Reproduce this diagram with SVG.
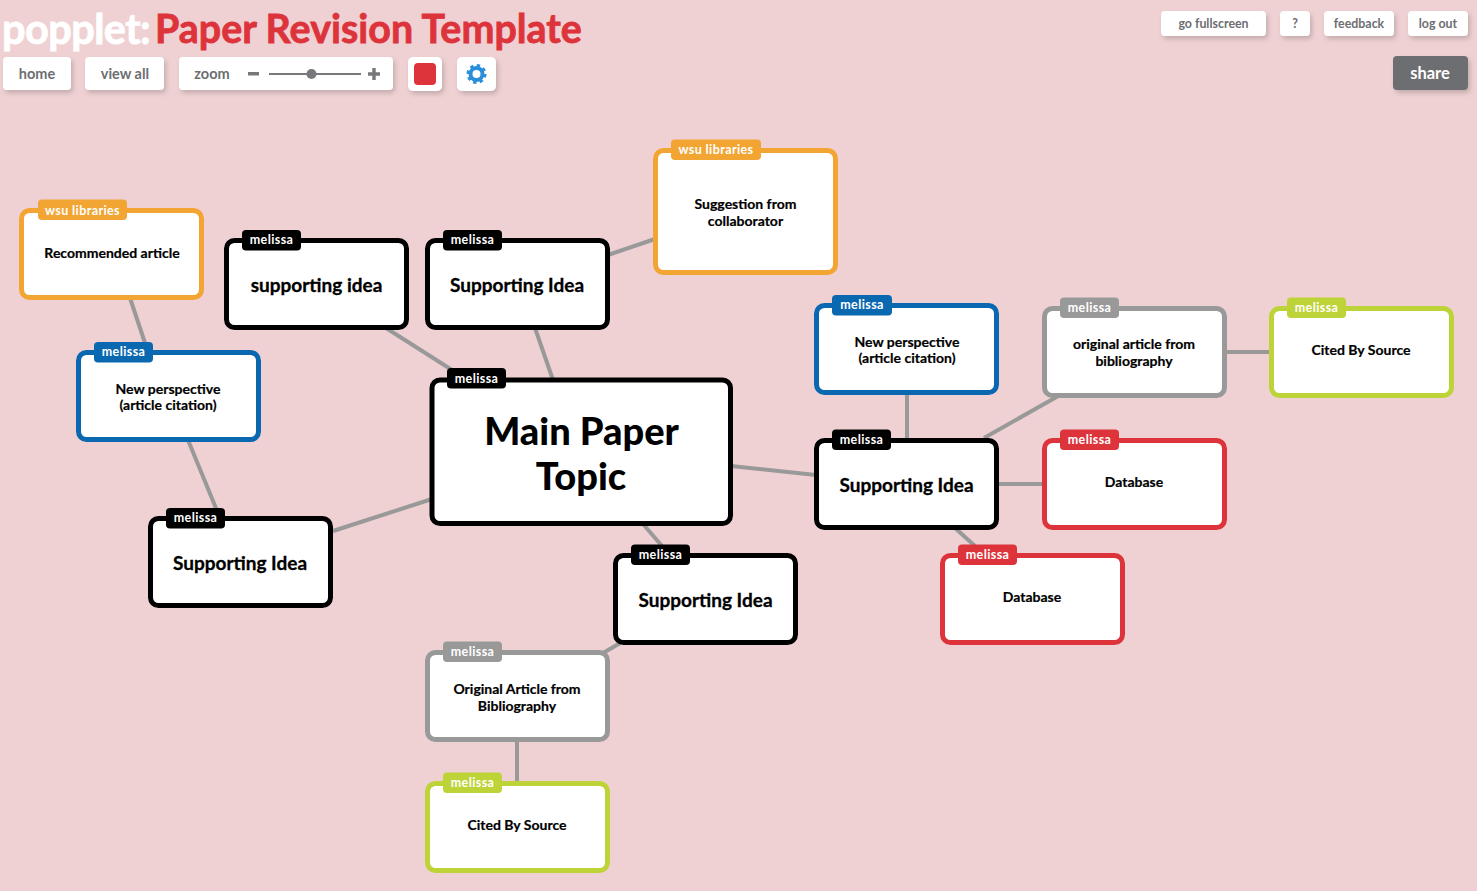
<svg xmlns="http://www.w3.org/2000/svg" width="1477" height="891" viewBox="0 0 1477 891">
<defs>
<filter id="sh" x="-30%" y="-30%" width="160%" height="170%"><feDropShadow dx="2" dy="3" stdDeviation="2.5" flood-color="#000" flood-opacity="0.18"/></filter>
</defs>
<style>
text{font-family:"Lato","Noto Sans","Liberation Sans",sans-serif;text-anchor:middle;font-weight:700}
.box{fill:#fff;stroke-width:5}
.black .box{stroke:#000}.black .tag{fill:#000}
.orange .box{stroke:#f2a533}.orange .tag{fill:#f2a533}
.blue .box{stroke:#0a68b0}.blue .tag{fill:#0a68b0}
.gray .box{stroke:#999}.gray .tag{fill:#999}
.lime .box{stroke:#bdd337}.lime .tag{fill:#bdd337}
.red .box{stroke:#dd343c}.red .tag{fill:#dd343c}
.tagt{fill:#fff;font-size:12.5px;letter-spacing:.4px}
.s{font-size:14px;fill:#000;stroke:#000;stroke-width:.2px}
.m{font-size:19px;fill:#000;stroke:#000;stroke-width:.3px}
.l{font-size:38px;fill:#000;font-weight:900}
.btn{fill:#fff;filter:url(#sh)}
.bt{fill:#6d6e71;font-size:12.4px}
.bt2{fill:#6d6e71;font-size:14.5px}
#connectors line{stroke:#999;stroke-width:4}
</style>
<rect width="1477" height="891" fill="#efd1d3"/>
<g id="header">
<text x="2" y="44" style="text-anchor:start;font-size:41.5px;fill:#fff;stroke:#fff;stroke-width:.8px;letter-spacing:-.6px">popplet:</text>
<text x="155" y="43" style="text-anchor:start;font-size:39.4px;fill:#dd343c;stroke:#dd343c;stroke-width:.8px">Paper Revision Template</text>
<rect class="btn" x="3" y="57" width="68" height="33" rx="4"/><text class="bt2" x="37" y="79">home</text>
<rect class="btn" x="85" y="57" width="79" height="33" rx="4"/><text class="bt2" x="125" y="79">view all</text>
<rect class="btn" x="179" y="57" width="214" height="33" rx="4"/><text class="bt2" x="212" y="79">zoom</text>
<rect x="248" y="72" width="11" height="3.500" fill="#77787b"/>
<rect x="269" y="73" width="92" height="2" fill="#77787b"/>
<circle cx="311.500" cy="74" r="5" fill="#77787b"/>
<path d="M368 72.300h4.300V68h3.400v4.300H380v3.400h-4.300V80h-3.400v-4.300H368z" fill="#77787b"/>
<rect class="btn" x="408" y="57" width="34" height="34" rx="5"/><rect x="414" y="63" width="22" height="22" rx="4" fill="#dd343c"/>
<rect class="btn" x="457" y="57" width="39" height="34" rx="5"/>
<circle cx="476.500" cy="74" r="6" fill="none" stroke="#2a8fd8" stroke-width="4"/>
<circle cx="476.500" cy="74" r="8.500" fill="none" stroke="#2a8fd8" stroke-width="3" stroke-dasharray="3.300 3.370"/>
<rect class="btn" x="1161" y="11" width="105" height="25" rx="4"/><text class="bt" x="1213.500" y="28">go fullscreen</text>
<rect class="btn" x="1280" y="11" width="30" height="25" rx="4"/><text class="bt" x="1295" y="28">?</text>
<rect class="btn" x="1324" y="11" width="70" height="25" rx="4"/><text class="bt" x="1359" y="28">feedback</text>
<rect class="btn" x="1408" y="11" width="60" height="25" rx="4"/><text class="bt" x="1438" y="28">log out</text>
<rect x="1393" y="56" width="75" height="34" rx="4" fill="#6d6e71" filter="url(#sh)"/><text x="1430" y="79" style="font-size:16.500px;fill:#fff">share</text>
</g>
<g id="connectors">
<line x1="130" y1="298" x2="148" y2="352"/>
<line x1="188" y1="440" x2="220" y2="518"/>
<line x1="333" y1="531" x2="432" y2="499"/>
<line x1="386" y1="328" x2="452" y2="370"/>
<line x1="535" y1="328" x2="553" y2="380"/>
<line x1="608" y1="255" x2="655" y2="239"/>
<line x1="731" y1="466" x2="816" y2="475"/>
<line x1="643" y1="524" x2="662" y2="546"/>
<line x1="907" y1="393" x2="907" y2="440"/>
<line x1="984" y1="438" x2="1060" y2="395"/>
<line x1="997" y1="484" x2="1044" y2="484"/>
<line x1="955" y1="528" x2="975" y2="546"/>
<line x1="1225" y1="352" x2="1271" y2="352"/>
<line x1="603" y1="653" x2="622" y2="642"/>
<line x1="517" y1="740" x2="517" y2="783"/>
</g>
<g id="n-recommended" class="orange"><rect class="box" x="21.500" y="210.500" width="180" height="87" rx="8"/><rect class="tag" x="38" y="199.500" width="89" height="20.500" rx="4"/><text class="tagt" x="82.500" y="214.500">wsu libraries</text><text class="s" x="112" y="257.500">Recommended article</text></g>
<g id="n-supporting-a" class="black"><rect class="box" x="226.500" y="240.500" width="180" height="87" rx="8"/><rect class="tag" x="242" y="230" width="59" height="20.500" rx="4"/><text class="tagt" x="271.500" y="244">melissa</text><text class="m" x="316.500" y="292">supporting idea</text></g>
<g id="n-supporting-b" class="black"><rect class="box" x="427.500" y="240.500" width="180" height="87" rx="8"/><rect class="tag" x="443" y="230" width="59" height="20.500" rx="4"/><text class="tagt" x="472.500" y="244">melissa</text><text class="m" x="517" y="292">Supporting Idea</text></g>
<g id="n-suggestion" class="orange"><rect class="box" x="655.500" y="150.500" width="180" height="122" rx="8"/><rect class="tag" x="671" y="139.500" width="90" height="20.500" rx="4"/><text class="tagt" x="716" y="154">wsu libraries</text><text class="s" x="745.500" y="209">Suggestion from</text><text class="s" x="745.500" y="226">collaborator</text></g>
<g id="n-perspective-left" class="blue"><rect class="box" x="78.500" y="352.500" width="180" height="87" rx="8"/><rect class="tag" x="94" y="342" width="59" height="20.500" rx="4"/><text class="tagt" x="123.500" y="356">melissa</text><text class="s" x="168" y="394">New perspective</text><text class="s" x="168" y="410">(article citation)</text></g>
<g id="n-main" class="black"><rect class="box" x="432" y="380" width="298.500" height="143.500" rx="8"/><rect class="tag" x="447" y="368" width="59" height="20.500" rx="4"/><text class="tagt" x="476.500" y="382.500">melissa</text><text class="l" x="581.500" y="444.500">Main Paper</text><text class="l" x="581" y="489.500">Topic</text></g>
<g id="n-supporting-left" class="black"><rect class="box" x="150.500" y="518.500" width="180" height="87" rx="8"/><rect class="tag" x="166" y="508" width="59" height="20.500" rx="4"/><text class="tagt" x="195.500" y="522">melissa</text><text class="m" x="240" y="570">Supporting Idea</text></g>
<g id="n-perspective-right" class="blue"><rect class="box" x="816.500" y="305.500" width="180" height="87" rx="8"/><rect class="tag" x="832" y="295" width="60" height="20.500" rx="4"/><text class="tagt" x="862" y="309">melissa</text><text class="s" x="907" y="347">New perspective</text><text class="s" x="907" y="363">(article citation)</text></g>
<g id="n-original" class="gray"><rect class="box" x="1044.500" y="308.500" width="180" height="87" rx="8"/><rect class="tag" x="1060" y="297.500" width="59" height="20.500" rx="4"/><text class="tagt" x="1089.500" y="312">melissa</text><text class="s" x="1134" y="349">original article from</text><text class="s" x="1134" y="366">bibliography</text></g>
<g id="n-cited-right" class="lime"><rect class="box" x="1271.500" y="308.500" width="180" height="87" rx="8"/><rect class="tag" x="1287" y="297.500" width="59" height="20.500" rx="4"/><text class="tagt" x="1316.500" y="312">melissa</text><text class="s" x="1361" y="355">Cited By Source</text></g>
<g id="n-supporting-right" class="black"><rect class="box" x="816.500" y="440.500" width="180" height="87" rx="8"/><rect class="tag" x="832" y="429.500" width="59" height="20.500" rx="4"/><text class="tagt" x="861.500" y="444">melissa</text><text class="m" x="906.500" y="492">Supporting Idea</text></g>
<g id="n-database-a" class="red"><rect class="box" x="1044.500" y="440.500" width="180" height="87" rx="8"/><rect class="tag" x="1060" y="429.500" width="59" height="20.500" rx="4"/><text class="tagt" x="1089.500" y="444">melissa</text><text class="s" x="1134" y="487">Database</text></g>
<g id="n-database-b" class="red"><rect class="box" x="942.500" y="555.500" width="180" height="87" rx="8"/><rect class="tag" x="958" y="544.500" width="59" height="20.500" rx="4"/><text class="tagt" x="987.500" y="559">melissa</text><text class="s" x="1032" y="602">Database</text></g>
<g id="n-supporting-bottom" class="black"><rect class="box" x="615.500" y="555.500" width="180" height="87" rx="8"/><rect class="tag" x="631" y="544.500" width="59" height="20.500" rx="4"/><text class="tagt" x="660.500" y="559">melissa</text><text class="m" x="705.500" y="607">Supporting Idea</text></g>
<g id="n-original-article" class="gray"><rect class="box" x="427.500" y="652.500" width="180" height="87" rx="8"/><rect class="tag" x="443" y="641.500" width="59" height="20.500" rx="4"/><text class="tagt" x="472.500" y="656">melissa</text><text class="s" x="517" y="693.500">Original Article from</text><text class="s" x="517" y="710.500">Bibliography</text></g>
<g id="n-cited-bottom" class="lime"><rect class="box" x="427.500" y="783.500" width="180" height="87" rx="8"/><rect class="tag" x="443" y="772.500" width="59" height="20.500" rx="4"/><text class="tagt" x="472.500" y="787">melissa</text><text class="s" x="517" y="830">Cited By Source</text></g>
</svg>
